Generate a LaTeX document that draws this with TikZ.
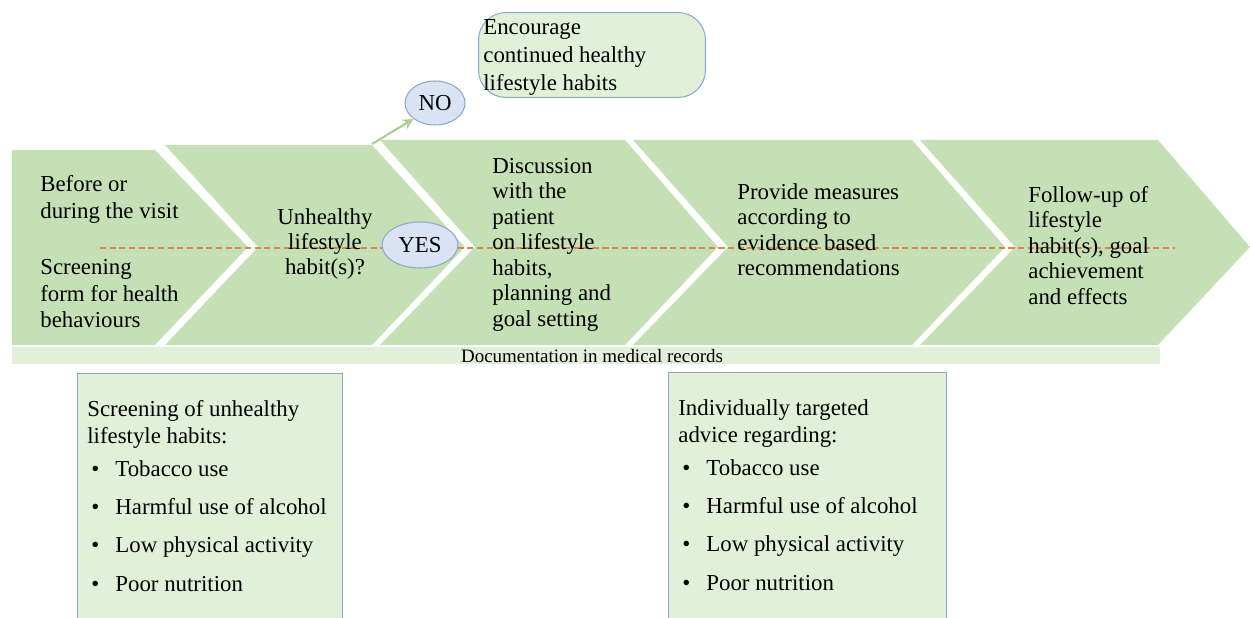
\documentclass[tikz,border=0pt]{standalone}
\usepackage{fontspec}
\setmainfont{Liberation Serif}
\usepackage{tikz}
\usetikzlibrary{shapes.geometric,arrows.meta}
\definecolor{chevgreen}{HTML}{C5E0B4}
\definecolor{palegreen}{HTML}{E2F0D9}
\definecolor{bluegrey}{HTML}{8FA8C8}
\definecolor{paleblue}{HTML}{DAE3F3}
\definecolor{dashorange}{HTML}{D8874A}
\definecolor{arrowgreen}{HTML}{A9D18E}
\newcommand{\listdot}{\makebox[16pt][l]{\hspace{2.3pt}\textbullet}}

\begin{document}
\begin{tikzpicture}[x=0.02cm,y=-0.02cm,
    chev/.style={fill=chevgreen},
    steptext/.style={anchor=north west,align=left,inner sep=0pt,font=\fontsize{13}{14.5}\selectfont},
    answer/.style={ellipse,draw=bluegrey,fill=paleblue,line width=0.6pt,inner sep=0pt,font=\fontsize{13}{14.5}\selectfont},
    infobox/.style={draw=bluegrey,fill=palegreen,line width=0.6pt,anchor=north west,inner sep=0pt}]

      \useasboundingbox (0,0) rectangle (1250,618);

      % the five steps
      \fill[chev] (12,150) -- (155,150) -- (248,247) -- (155,345) -- (12,345) -- cycle;
      \fill[chev] (165,145) -- (372,145) -- (465,247) -- (372,345) -- (165,345) -- (258,247) -- cycle;
      \fill[chev] (380,140) -- (625,140) -- (718,247) -- (625,345) -- (380,345) -- (475,247) -- cycle;
      \fill[chev] (633,140) -- (912,140) -- (1005,247) -- (912,345) -- (633,345) -- (728,247) -- cycle;
      \fill[chev] (920,140) -- (1158,140) -- (1250,247) -- (1158,345) -- (920,345) -- (1015,247) -- cycle;

      \coordinate (dashL) at (100,248);
      \coordinate (dashR) at (1175,248);
      \draw[dashorange,line width=0.6pt,dash pattern=on 3.5pt off 2pt] (dashL) -- (dashR);

      \node[steptext,font=\fontsize{13}{15.3}\selectfont] (visit) at (40,175)
        {Before or\\during the visit\\[16.5pt]Screening\\form for health\\behaviours};
      \node[steptext,anchor=center,align=center,font=\fontsize{13}{14}\selectfont] (unhealthy) at (325,244)
        {Unhealthy\\lifestyle\\habit(s)?};
      \node[steptext] (discuss) at (492,158)
        {Discussion\\with the\\patient\\on lifestyle\\habits,\\planning and\\goal setting};
      \node[steptext] (measures) at (737,183)
        {Provide measures\\according to\\evidence based\\recommendations};
      \node[steptext] (followup) at (1028,186)
        {Follow-up of\\lifestyle\\habit(s), goal\\achievement\\and effects};

      \node[answer,minimum width=1.52cm,minimum height=0.92cm] (yes) at (420,245) {YES};
      \node[answer,minimum width=1.2cm,minimum height=0.88cm] (no) at (435,103) {NO};

      \node[infobox,rounded corners=0.55cm,minimum width=4.54cm,minimum height=1.7cm] (encourage) at (478,12) {};
      \node[steptext,font=\fontsize{13}{16}\selectfont] (encouragetext) at (483,19)
        {Encourage\\continued healthy\\lifestyle habits};

      \coordinate (chevtop) at (372,144);
      \draw[arrowgreen,line width=1.2pt,-{Stealth[length=6pt,width=6pt]}] (chevtop) -- (no.south west);

      % documentation bar
      \node[fill=palegreen,anchor=north west,inner sep=0pt,minimum width=22.96cm,minimum height=0.34cm] (docbar) at (12,347) {};
      \node[inner sep=0pt,font=\fontsize{10.8}{11}\selectfont] (doctext) at (592,356) {Documentation in medical records};

      % lower boxes
      \node[infobox,minimum width=5.3cm,minimum height=5.3cm] (screenbox) at (77,373) {};
      \node[steptext,font=\fontsize{13}{15.3}\selectfont] (screentext) at (87,400)
        {Screening of unhealthy\\lifestyle habits:\\[3.5pt]\listdot Tobacco use\\[6.5pt]\listdot Harmful use of alcohol\\[6.5pt]\listdot Low physical activity\\[6.5pt]\listdot Poor nutrition};

      \node[infobox,minimum width=5.56cm,minimum height=5.3cm] (advicebox) at (668,372) {};
      \node[steptext,font=\fontsize{13}{15.3}\selectfont] (advicetext) at (678,399)
        {Individually targeted\\advice regarding:\\[3.5pt]\listdot Tobacco use\\[6.5pt]\listdot Harmful use of alcohol\\[6.5pt]\listdot Low physical activity\\[6.5pt]\listdot Poor nutrition};

\end{tikzpicture}
\end{document}
